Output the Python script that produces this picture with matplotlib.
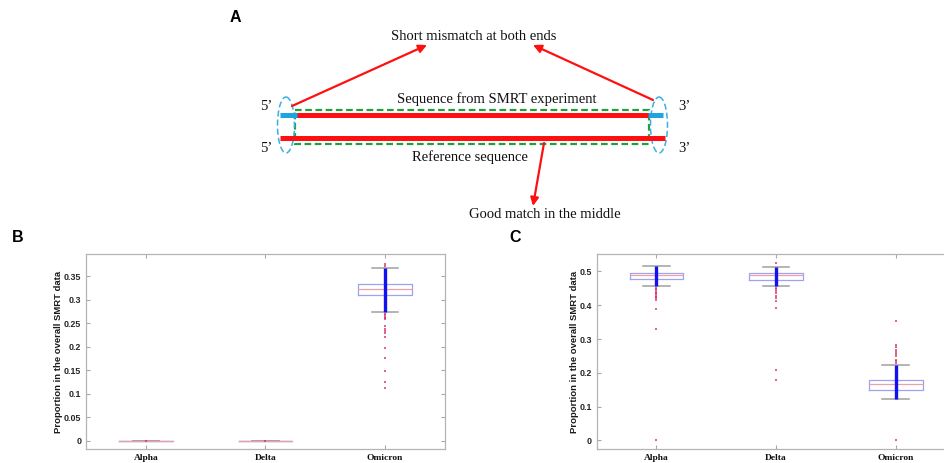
import matplotlib
matplotlib.use("Agg")
import matplotlib.pyplot as plt
from matplotlib.patches import Ellipse, Rectangle
from matplotlib.ticker import FuncFormatter

# ---- data ----
categories = ["Alpha", "Delta", "Omicron"]

# panel B: proportion of short mismatches
b_med = [0.0, 0.0, 0.322]
b_q1 = [0.0, 0.0, 0.309]
b_q3 = [0.0, 0.0, 0.333]
b_lo = [0.0, 0.0, 0.273]
b_hi = [0.0, 0.0, 0.367]
b_out = [[0.0],
         [0.0],
         [0.376, 0.372, 0.270, 0.267, 0.264, 0.261, 0.258, 0.243, 0.238,
          0.234, 0.230, 0.220, 0.197, 0.175, 0.149, 0.124, 0.113]]
b_ticks = [0, 0.05, 0.1, 0.15, 0.2, 0.25, 0.3, 0.35]

# panel C
c_med = [0.488, 0.490, 0.167]
c_q1 = [0.479, 0.476, 0.149]
c_q3 = [0.495, 0.495, 0.179]
c_lo = [0.457, 0.456, 0.123]
c_hi = [0.515, 0.513, 0.223]
c_out = [[0.452, 0.448, 0.444, 0.440, 0.436, 0.432, 0.428, 0.424, 0.420,
          0.416, 0.390, 0.331, 0.0],
         [0.525, 0.451, 0.448, 0.441, 0.436, 0.428, 0.421, 0.411, 0.393,
          0.207, 0.180],
         [0.352, 0.283, 0.276, 0.268, 0.263, 0.256, 0.249, 0.239, 0.234,
          0.229, 0.0]]
c_ticks = [0, 0.1, 0.2, 0.3, 0.4, 0.5]

W, H = 944, 463
fig = plt.figure(figsize=(W / 100, H / 100), dpi=100)

serif = "Liberation Serif"
sans = "Liberation Sans"

# ---- panel A: schematic, drawn in pixel coordinates ----
axa = fig.add_axes([0, 0, 1, 1])
axa.set_xlim(0, W)
axa.set_ylim(H, 0)
axa.axis("off")

red = "#ff1010"
sky = "#1ea4e0"
axa.plot([280, 663], [115, 115], color=sky, lw=3.6, solid_capstyle="butt")
axa.plot([297, 648], [115, 115], color=red, lw=3.6, solid_capstyle="butt")
axa.plot([280, 665], [138, 138], color=red, lw=3.6, solid_capstyle="butt")
axa.add_patch(Rectangle((295, 110), 354, 34, fill=False, ec="#1fa040",
                        lw=1.6, ls=(0, (3, 1.6))))
for cx in (286, 659):
    axa.add_patch(Ellipse((cx, 125), 17, 56, fill=False, ec="#3ab0e6",
                          lw=1.1, ls=(0, (4, 2))))

arrow = dict(arrowstyle="-|>", color=red, lw=1.6, mutation_scale=12,
             shrinkA=0, shrinkB=0)
axa.annotate("", xy=(427, 45), xytext=(292, 106), arrowprops=arrow)
axa.annotate("", xy=(533, 45), xytext=(653, 100), arrowprops=arrow)
axa.annotate("", xy=(533, 206), xytext=(544, 143), arrowprops=arrow)

tkw = dict(family=serif, fontsize=10.5, ha="center", va="center", color="#111111")
axa.text(474, 37, "Short mismatch at both ends", **tkw)
axa.text(497, 99, "Sequence from SMRT experiment", **tkw)
axa.text(470, 157, "Reference sequence", **tkw)
axa.text(545, 215, "Good match in the middle", **tkw)
for y in (107, 148):
    axa.text(266, y, "5\u2019", **tkw)
    axa.text(684, y, "3\u2019", **tkw)

lkw = dict(family=sans, fontsize=11.5, fontweight="bold", ha="center", va="center")
axa.text(235, 18, "A", **lkw)
axa.text(18, 237, "B", **lkw)
axa.text(515, 237, "C", **lkw)


# ---- panels B and C: box plots ----
def box_panel(rect, med, q1, q3, lo, hi, out, ticks, ylim):
    ax = fig.add_axes(rect)
    pos = [1, 2, 3]
    stats = [dict(med=med[i], q1=q1[i], q3=q3[i], whislo=lo[i],
                  whishi=hi[i], fliers=[]) for i in range(3)]
    ax.bxp(stats, positions=pos, widths=0.45, showfliers=False,
           boxprops=dict(color="#a0a0f4", lw=0.9),
           medianprops=dict(color="#eca0a8", lw=0.9),
           whiskerprops=dict(color="#909090", lw=0.8, ls="--"),
           capprops=dict(color="#a0a0a0", lw=1.1),
           capwidths=0.22)
    # dense column of data points inside the whiskers
    ax.vlines(pos, lo, hi, color="#1212f0", lw=2.4, zorder=3)
    for p, vals in zip(pos, out):
        ax.plot([p] * len(vals), vals, ls="none", marker="s", ms=1.8,
                mew=0, color="#d8306a", alpha=0.75, zorder=4)
    ax.set_xlim(0.5, 3.5)
    ax.set_ylim(*ylim)
    ax.set_yticks(ticks)
    ax.yaxis.set_major_formatter(FuncFormatter(lambda v, _: "%g" % v))
    ax.set_xticks(pos)
    ax.set_xticklabels(categories, family=serif, fontweight="bold",
                       fontsize=6.8, color="#111111")
    for lab in ax.get_yticklabels():
        lab.set_family(sans)
        lab.set_fontweight("bold")
        lab.set_fontsize(6.4)
        lab.set_color("#262626")
    ax.tick_params(direction="in", length=3, width=0.8, color="#a8a8a8",
                   top=True, right=True, pad=3.5)
    for s in ax.spines.values():
        s.set_color("#b4b4b4")
        s.set_linewidth(0.9)
    ax.set_ylabel("Proportion in the overall SMRT data", family=sans,
                  fontweight="bold", fontsize=6.8, color="#1a1a1a", labelpad=0.5)
    return ax


box_panel([86 / W, 1 - 449 / H, 359 / W, 195 / H],
          b_med, b_q1, b_q3, b_lo, b_hi, b_out, b_ticks, (-0.0177, 0.397))
box_panel([596.7 / W, 1 - 449 / H, 358.7 / W, 195 / H],
          c_med, c_q1, c_q3, c_lo, c_hi, c_out, c_ticks, (-0.0254, 0.5515))

fig.savefig("out.png", dpi=100)
